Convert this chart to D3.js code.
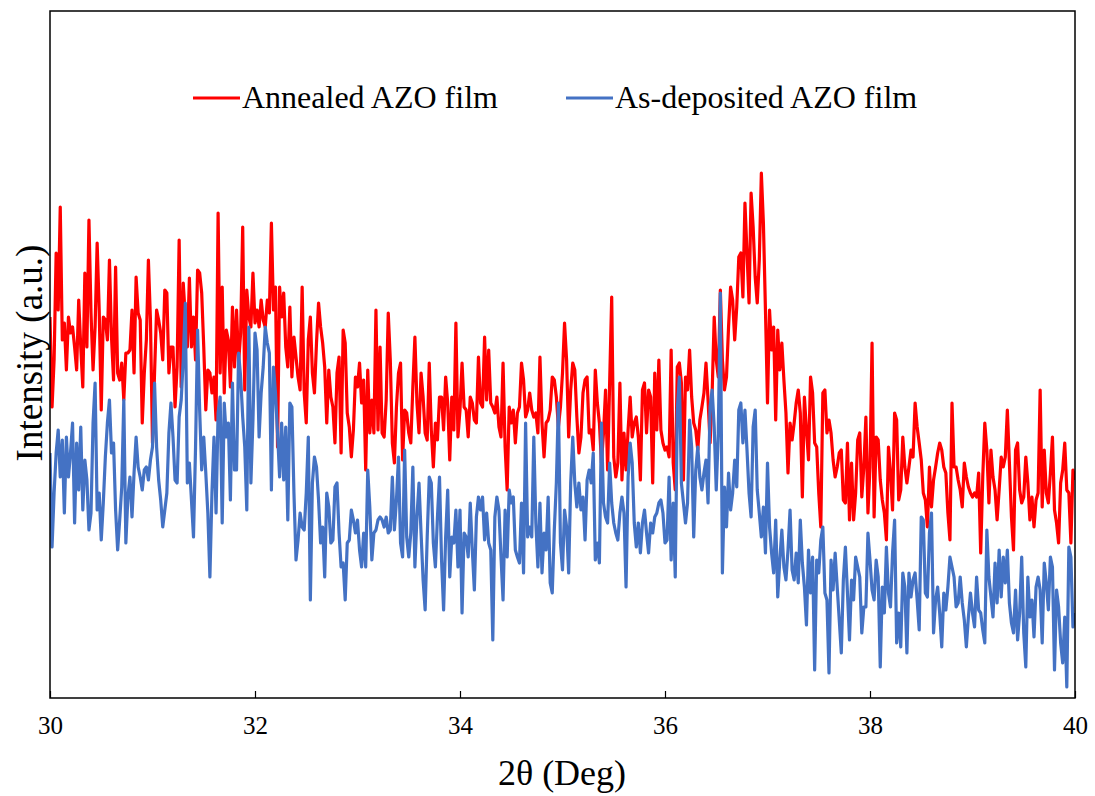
<!DOCTYPE html>
<html>
<head>
<meta charset="UTF-8">
<title>XRD AZO films</title>
<script src="https://d3js.org/d3.v7.min.js"></script>
<style>
  body { margin: 0; background: #fff; }
  text { font-family: "Liberation Serif", "Times New Roman", serif; fill: #000; }
</style>
</head>
<body>
<svg id="chart" width="1095" height="796"></svg>
<script>

// 2theta scan: 30 to 40 deg, step 0.02 deg
const thetaStart = 30;
const thetaStep = 0.02;
const xTicks = [30, 32, 34, 36, 38, 40];
const seriesNames = ["Annealed AZO film", "As-deposited AZO film"];
const seriesColors = ["#ff0000", "#4472c4"];

// intensity (a.u.)
const annealed = [381,291,338,445,388,491,358,375,328,381,
365,371,351,328,398,351,311,425,351,478,
385,328,371,455,388,288,381,378,358,438,
361,318,431,325,318,335,298,345,345,348,
388,325,421,385,378,275,325,358,438,378,
255,325,388,378,365,338,408,405,325,351,
351,291,331,458,
311,415,381,351,420,351,381,338,428,425,
405,351,288,328,325,305,321,278,485,325,
411,305,368,358,311,391,331,388,335,365,
471,308,408,381,371,425,375,388,371,398,
378,371,398,385,475,388,411,251,411,381,
405,351,331,391,321,361,341,321,308,411,
305,275,358,381,
325,305,355,395,371,355,331,275,328,301,
291,255,325,341,245,368,355,285,271,241,
268,321,311,335,295,318,228,328,265,298,
265,388,268,351,265,261,298,385,338,255,
235,291,325,335,238,288,285,265,255,311,
361,295,265,325,301,265,258,335,268,231,
275,258,301,
301,268,321,295,238,301,268,375,261,288,
335,291,288,261,301,295,278,275,341,295,
291,361,298,348,295,291,285,301,271,261,
335,251,208,291,275,288,255,285,291,335,
318,281,288,305,288,281,285,265,341,275,
241,275,278,288,321,318,301,271,291,325,
375,338,261,
308,335,328,281,245,261,305,318,321,265,
268,248,328,295,275,235,265,308,228,315,
401,241,221,235,315,218,265,228,268,301,
261,275,281,261,218,308,315,265,308,301,
215,325,268,338,268,255,248,251,241,348,
235,208,331,335,315,218,321,308,348,301,
275,268,248,
278,291,305,335,298,255,305,381,338,321,
408,338,308,321,371,411,398,358,391,441,
445,401,495,445,395,505,471,421,395,438,
525,475,388,295,388,348,371,278,368,328,
355,318,285,225,275,258,275,295,308,285,
201,301,268,238,321,305,255,251,205,171,
305,308,265,
278,265,238,221,231,245,248,198,195,255,
178,235,178,205,258,265,201,231,281,185,
231,355,181,261,258,218,198,185,158,251,
225,188,285,278,198,208,261,231,215,231,
248,241,295,271,255,238,205,198,171,231,
191,218,231,245,255,248,231,225,185,158,
295,231,231,
218,208,191,235,221,211,205,201,205,201,
225,145,221,275,248,195,248,221,208,178,
208,241,231,241,288,235,181,148,248,255,
208,195,201,241,215,178,201,171,198,205,
308,191,248,205,195,225,261,188,175,155,
215,228,255,208,205,155,228,218];

const asDeposited = [245,151,205,245,268,221,258,185,261,221,
245,275,175,255,208,271,188,238,218,168,
185,275,315,188,205,158,195,241,275,298,
245,255,188,148,178,211,298,155,201,221,
181,225,261,231,221,208,228,231,218,238,
251,315,251,218,198,171,188,205,265,295,
261,218,215,281,
298,338,395,215,235,198,161,251,368,288,
228,261,225,185,121,205,261,185,285,301,
175,295,261,275,198,315,228,228,345,321,
281,251,188,371,215,278,365,348,261,305,
331,371,355,345,208,331,305,265,221,275,
218,271,178,295,291,205,138,158,185,171,
168,205,261,98,
215,241,231,198,155,171,121,205,191,155,
158,211,215,165,131,135,98,155,158,188,
178,165,178,148,131,165,131,228,191,138,
165,168,178,181,178,171,181,165,168,221,
168,198,241,155,141,248,161,141,165,231,
131,181,215,165,118,88,161,221,215,155,
131,181,221,
138,88,161,208,121,161,155,188,131,188,
85,165,161,141,195,148,108,181,201,188,
201,158,185,155,148,58,181,201,188,141,
98,188,141,208,195,201,148,141,135,195,
125,275,161,171,161,261,175,131,195,125,
165,148,201,115,105,168,215,295,155,128,
188,171,125,
215,261,215,191,215,188,201,158,218,228,
215,245,138,155,135,275,195,181,175,235,
195,175,165,158,185,201,185,111,221,255,
235,175,151,175,145,175,188,165,145,175,
165,181,185,195,198,185,155,158,221,138,
195,121,288,321,215,195,175,195,278,251,
161,228,251,
221,208,225,238,195,291,308,271,208,265,
405,125,211,171,225,188,205,238,211,288,
295,255,288,248,205,181,271,288,208,185,
161,191,145,235,171,145,125,178,101,138,
168,131,118,148,188,128,118,145,115,178,
135,111,73,148,105,141,28,138,125,158,
171,105,98,
25,138,108,145,111,78,45,118,151,105,
58,118,98,141,131,121,65,91,91,165,
138,108,98,138,121,31,111,85,151,105,
91,145,178,55,85,51,125,111,45,125,
101,118,125,98,68,181,178,105,101,165,
185,65,98,111,85,51,105,88,111,141,
131,121,91,
95,121,95,78,51,81,105,85,71,121,
88,85,68,55,168,121,101,81,135,95,
148,101,141,115,148,95,75,65,108,58,
85,141,65,31,121,81,98,61,111,121,
108,55,135,115,88,141,131,28,108,91,
55,35,81,11,151,141,71,85];

const svg = d3.select("#chart");
const margin = { top: 11, right: 20, bottom: 98, left: 50 };
const width = 1095 - margin.left - margin.right;
const height = 796 - margin.top - margin.bottom;

const x = d3.scaleLinear().domain([30, 40]).range([margin.left, margin.left + width]);
const y = d3.scaleLinear().domain([0, 687]).range([margin.top + height, margin.top]);

svg.append("clipPath").attr("id", "plotclip")
    .append("rect")
    .attr("x", margin.left).attr("y", margin.top)
    .attr("width", width).attr("height", height);

const line = d3.line()
    .x((d, i) => x(thetaStart + i * thetaStep))
    .y(d => y(d));

const plot = svg.append("g").attr("clip-path", "url(#plotclip)");
[annealed, asDeposited].forEach((series, k) => {
    plot.append("path")
        .datum(series)
        .attr("fill", "none")
        .attr("stroke", seriesColors[k])
        .attr("stroke-width", 3.2)
        .attr("stroke-linejoin", "round")
        .attr("d", line);
});

// frame
svg.append("rect")
    .attr("x", margin.left).attr("y", margin.top)
    .attr("width", width).attr("height", height)
    .attr("fill", "none")
    .attr("stroke", "#000")
    .attr("stroke-width", 1.5);

// x axis, ticks pointing inside
const xAxis = svg.append("g")
    .attr("transform", "translate(0," + (margin.top + height) + ")")
    .call(d3.axisBottom(x).tickValues(xTicks).tickSize(-7).tickPadding(18).tickFormat(d3.format("d")));
xAxis.select(".domain").remove();
xAxis.selectAll("line").attr("stroke", "#000").attr("stroke-width", 1.2);
xAxis.selectAll("text")
    .style("font-family", "'Liberation Serif', 'Times New Roman', serif")
    .style("font-size", "25px");

svg.append("text")
    .attr("x", 562).attr("y", 785)
    .attr("text-anchor", "middle")
    .style("font-size", "36px")
    .text("2θ (Deg)");

svg.append("text")
    .attr("transform", "translate(42,353) rotate(-90)")
    .attr("text-anchor", "middle")
    .style("font-size", "37px")
    .text("Intensity (a.u.)");

// legend
const legendX = [193, 566];
seriesNames.forEach((name, k) => {
    const g = svg.append("g").attr("transform", "translate(" + legendX[k] + ",98)");
    g.append("line").attr("x1", 0).attr("x2", 47).attr("y1", 0).attr("y2", 0)
        .attr("stroke", seriesColors[k]).attr("stroke-width", 3);
    g.append("text").attr("x", 49).attr("y", 10)
        .style("font-size", "32px")
        .text(name);
});

</script>
</body>
</html>
